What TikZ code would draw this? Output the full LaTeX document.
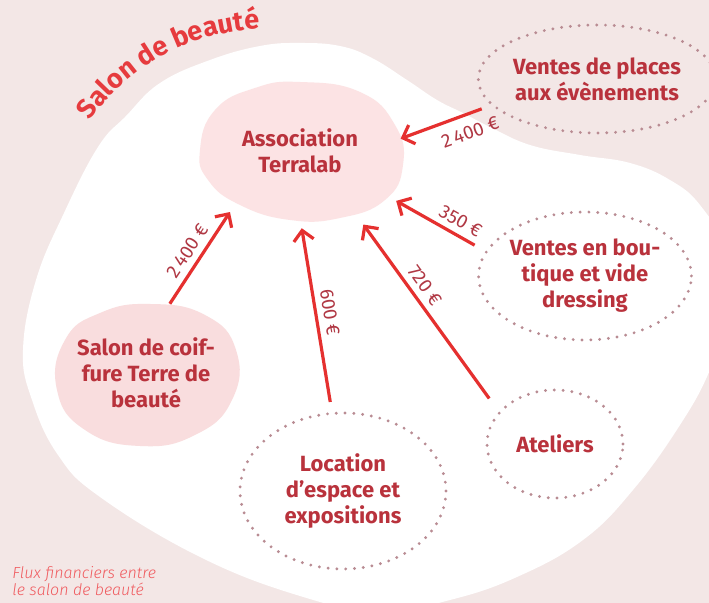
\documentclass[tikz,border=0pt]{standalone}
\usepackage{fontspec}
\setmainfont{Fira Sans}
\IfFontExistsTF{Fira Sans Light}{\newfontfamily\capfont{Fira Sans Light}}{\newfontfamily\capfont{Fira Sans}}
\usetikzlibrary{arrows.meta,shapes.geometric,decorations.text}
\definecolor{bgpink}{HTML}{F3E7E6}
\definecolor{blobA}{HTML}{FCE3E4}
\definecolor{blobS}{HTML}{F9DDDE}
\definecolor{dotcol}{HTML}{B98C93}
\definecolor{nodetext}{HTML}{B9323C}
\definecolor{lblcol}{HTML}{B03844}
\definecolor{arrowred}{HTML}{E5302F}
\definecolor{titlered}{HTML}{E63B3E}
\definecolor{capcol}{HTML}{F05A5E}
\newcommand\titlefmt{\fontsize{13.5}{13.5}\selectfont\bfseries\color{titlered}}
\begin{document}
\begin{tikzpicture}[x=0.5pt,y=-0.5pt,
  dotbox/.style={ellipse, draw=dotcol, line width=1.6pt, dash pattern=on 0pt off 4.4pt, line cap=round,
    inner sep=0pt, align=center, font=\fontsize{11}{13}\selectfont\bfseries, text=nodetext},
  blobtext/.style={ellipse, inner sep=0pt, align=center, font=\fontsize{11}{13}\selectfont\bfseries, text=nodetext},
  lbl/.style={font=\fontsize{9.5}{9.5}\selectfont, text=lblcol, inner sep=3pt},
  arr/.style={draw=arrowred, line width=1.6pt, -{Straight Barb[length=5pt,width=10pt]}}]
\path[use as bounding box] (0,0) rectangle (709,603);
\begin{scope}
\clip (0,0) rectangle (709,603);
\fill[bgpink] (0,0) rectangle (709,603);
\fill[white] plot[smooth cycle, tension=0.7] coordinates {
  (260,46) (300,43) (340,46) (372,58) (407,80) (437,100) (463,113) (490,127)
  (530,145) (580,155) (630,163) (670,180) (700,205) (725,250) (730,310) (710,370)
  (680,425) (633,490) (583,540) (517,577) (450,600) (380,612) (300,596) (200,557)
  (100,497) (58,455) (32,400) (23,350) (36,280) (64,213) (98,147) (126,116)
  (160,83) (210,60)};
\end{scope}
% pink blobs
\fill[blobA] plot[smooth cycle, tension=0.8] coordinates {
  (300,82) (360,92) (395,125) (403,165) (385,200) (340,218) (290,220) (240,205)
  (208,180) (200,150) (215,110) (255,88)};
\fill[blobS] plot[smooth cycle, tension=0.8] coordinates {
  (150,304) (205,315) (236,350) (232,400) (195,435) (140,446) (85,430) (57,390)
  (65,340) (100,313)};
% title
\path[decorate, decoration={text along path, text align=left,
  text={|\titlefmt|Salon de beauté}}] (90,121) arc[start angle=145, end angle=70, radius=108pt];
% nodes
\node[blobtext, minimum width=102pt, minimum height=66pt] (asso) at (300,151) {Association\\Terralab};
\node[blobtext, minimum width=92pt, minimum height=71pt] (sal) at (146,373) {Salon de coif-\\fure Terre de\\beauté};
\node[dotbox, minimum width=105pt, minimum height=54pt] (vp) at (597,79) {Ventes de places\\aux évènements};
\node[dotbox, minimum width=98pt, minimum height=64pt] (bout) at (585,276) {Ventes en bou-\\tique et vide\\dressing};
\node[dotbox, minimum width=68pt, minimum height=54pt] (atel) at (555,444) {Ateliers};
\node[dotbox, minimum width=103pt, minimum height=78pt] (loc) at (343,491) {Location\\d’espace et\\expositions};
% connectors
\draw[arr, shorten <=5pt] (vp.194) -- (asso.7) node[lbl, pos=0.3, below=2pt, sloped] {2\,400 €};
\draw[arr, shorten <=6pt, shorten >=9pt] (bout.166) -- (asso.-27.5) node[lbl, pos=0.3, above, sloped] {350 €};
\draw[arr, shorten <=8pt, shorten >=10pt] (atel.150) -- (asso.-48.8) node[lbl, pos=0.58, above, sloped] {720 €};
\draw[arr, shorten <=5pt, shorten >=5.5pt] (loc.98.5) -- (asso.-90.7) node[lbl, pos=0.5, above, sloped] {600 €};
\draw[arr, shorten >=5.5pt] (sal.71.3) -- (asso.-141.9) node[lbl, pos=0.45, above, sloped] {2\,400 €};
% caption
\node[anchor=north west, inner sep=0pt, align=left, font=\capfont\itshape\fontsize{8}{8.5}\selectfont, text=capcol] (cap) at (12,566) {Flux financiers entre\\le salon de beauté};
\end{tikzpicture}
\end{document}
